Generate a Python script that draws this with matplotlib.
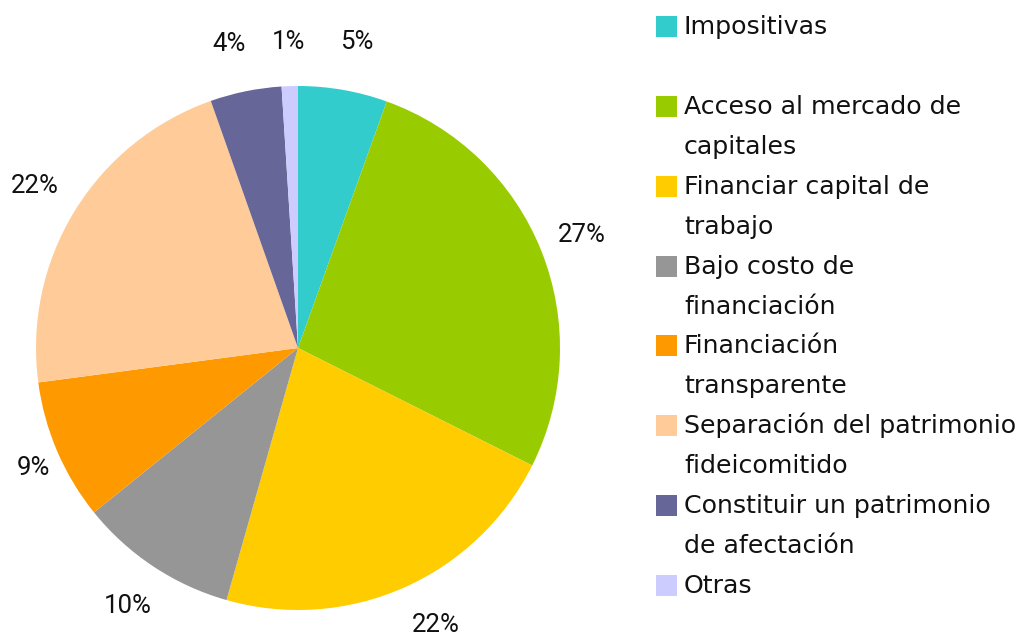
import matplotlib
matplotlib.use("Agg")
import numpy as np
import matplotlib.pyplot as plt
from matplotlib.patches import Rectangle

categories = ["Impositivas", "Acceso al mercado de\ncapitales", "Financiar capital de\ntrabajo",
              "Bajo costo de\nfinanciación", "Financiación\ntransparente",
              "Separación del patrimonio\nfideicomitido", "Constituir un patrimonio\nde afectación",
              "Otras"]
values = [5.5, 26.9, 22.0, 9.8, 8.7, 21.7, 4.4, 1.0]
pct_labels = ["5%", "27%", "22%", "10%", "9%", "22%", "4%", "1%"]
colors = ["#33CCCC", "#99CC00", "#FFCC00", "#969696", "#FF9900", "#FFCC99", "#666699", "#CCCCFF"]
label_dist = [1.19, 1.165, 1.18, 1.18, 1.11, 1.18, 1.19, 1.17]
label_ang_off = [-1.0, 0.0, 2.7, 0.0, 1.2, 0.0, 1.3, 0.0]

W, H = 1025, 636
fig = plt.figure(figsize=(W / 100, H / 100), dpi=100)
cx, cy, r = 298, 348, 262
ax = fig.add_axes([(cx - r) / W, (H - cy - r) / H, 2 * r / W, 2 * r / H])

wedges, texts = ax.pie(values, colors=colors, startangle=90, counterclock=False,
                       radius=1.0, wedgeprops=dict(linewidth=0))
for w, lab, d, off in zip(wedges, pct_labels, label_dist, label_ang_off):
    ang = np.deg2rad((w.theta1 + w.theta2) / 2 + off)
    ax.text(d * np.cos(ang), d * np.sin(ang), lab, ha="center", va="center",
            fontsize=18.5, family="Roboto", color="#111111", clip_on=False)
ax.set_xlim(-1, 1)
ax.set_ylim(-1, 1)
ax.axis("off")

# legend drawn manually
y0, step = 26.5, 79.86
for i, (lab, col) in enumerate(zip(categories, colors)):
    yc = y0 + i * step
    fig.add_artist(Rectangle((656 / W, 1 - (yc + 10.5) / H), 21 / W, 21 / H,
                             transform=fig.transFigure, facecolor=col, edgecolor="none"))
    for j, line in enumerate(lab.split("\n")):
        yb = yc + 7.5 + j * 40
        fig.text(684 / W, 1 - yb / H, line, fontsize=18.2, family="DejaVu Sans",
                 va="baseline", ha="left", color="#111111")

fig.savefig("out.png", dpi=100)
